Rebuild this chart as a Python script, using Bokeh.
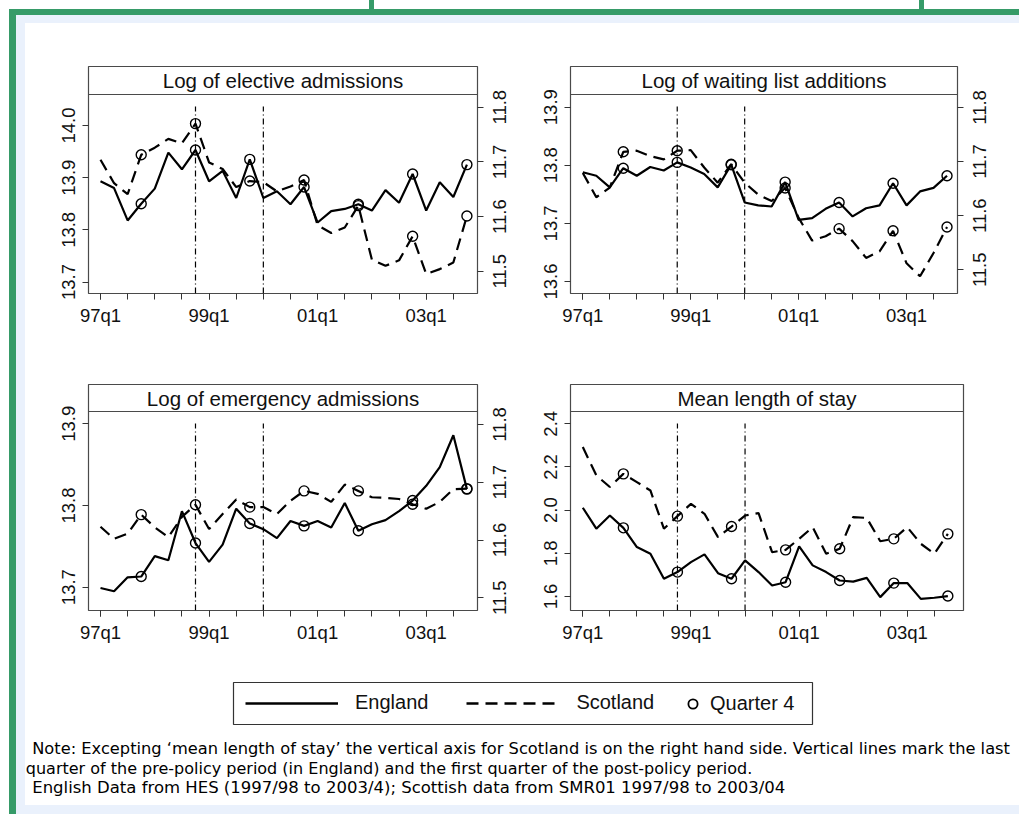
import math
from bokeh.plotting import figure
from bokeh.models import (Range1d, LinearAxis, FixedTicker, Span, Label, Legend, LegendItem,
                          CustomLabelingPolicy)
from bokeh.layouts import row, column
from bokeh.embed import file_html
from bokeh.resources import INLINE

# ---------------- data ----------------
quarters = [f"{y:02d}q{q}" for y in (97, 98, 99, 0, 1, 2, 3) for q in (1, 2, 3, 4)]
label_quarters = ["97q1", "99q1", "01q1", "03q1"]
policy_marks = ["98q4", "00q1"]

elective_eng = [13.893, 13.880, 13.818, 13.850, 13.879, 13.948, 13.916, 13.953, 13.893, 13.913,
                13.861, 13.935, 13.861, 13.874, 13.849, 13.882, 13.814, 13.836, 13.840, 13.849,
                13.837, 13.876, 13.852, 13.907, 13.837, 13.891, 13.863, 13.925]
elective_scot = [11.704, 11.661, 11.641, 11.713, 11.726, 11.742, 11.734, 11.770, 11.699, 11.687,
                 11.654, 11.665, 11.663, 11.646, 11.655, 11.667, 11.584, 11.570, 11.580, 11.620,
                 11.521, 11.510, 11.520, 11.564, 11.495, 11.504, 11.516, 11.601]

waiting_eng = [13.788, 13.782, 13.762, 13.795, 13.782, 13.797, 13.791, 13.805, 13.796, 13.785,
               13.762, 13.801, 13.736, 13.731, 13.729, 13.771, 13.706, 13.709, 13.725, 13.736,
               13.712, 13.726, 13.731, 13.769, 13.731, 13.755, 13.761, 13.782]
waiting_scot = [11.679, 11.634, 11.652, 11.718, 11.720, 11.710, 11.704, 11.720, 11.721, 11.689,
                11.661, 11.695, 11.661, 11.639, 11.627, 11.651, 11.596, 11.554, 11.562, 11.576,
                11.553, 11.522, 11.534, 11.572, 11.512, 11.488, 11.531, 11.579]

emerg_eng = [13.699, 13.695, 13.712, 13.713, 13.738, 13.733, 13.793, 13.754, 13.731, 13.752,
             13.796, 13.778, 13.771, 13.760, 13.781, 13.775, 13.781, 13.773, 13.803, 13.769,
             13.777, 13.782, 13.793, 13.806, 13.824, 13.847, 13.886, 13.820]
emerg_scot = [11.623, 11.602, 11.611, 11.644, 11.622, 11.605, 11.640, 11.661, 11.619, 11.645,
              11.670, 11.657, 11.657, 11.645, 11.668, 11.685, 11.680, 11.666, 11.696, 11.685,
              11.674, 11.673, 11.671, 11.662, 11.654, 11.666, 11.688, 11.689]

los_eng = [2.011, 1.914, 1.975, 1.918, 1.829, 1.798, 1.682, 1.713, 1.759, 1.795,
           1.708, 1.682, 1.767, 1.713, 1.651, 1.666, 1.832, 1.744, 1.713, 1.674,
           1.669, 1.686, 1.597, 1.662, 1.662, 1.589, 1.594, 1.602]
los_scot = [2.292, 2.161, 2.107, 2.168, 2.130, 2.091, 1.914, 1.972, 2.029, 1.983,
            1.875, 1.924, 1.975, 1.986, 1.805, 1.816, 1.867, 1.921, 1.798, 1.821,
            1.968, 1.964, 1.856, 1.867, 1.921, 1.844, 1.798, 1.890]

titles = ["Log of elective admissions", "Log of waiting list additions",
          "Log of emergency admissions", "Mean length of stay"]
legend_labels = ["England", "Scotland", "Quarter 4"]

note_lines = [
    "Note: Excepting \u2018mean length of stay\u2019 the vertical axis for Scotland is on the right hand side.  Vertical lines mark the last",
    "quarter of the pre-policy period (in England) and the first quarter of the post-policy period.",
    "English Data from HES (1997/98 to 2003/4); Scottish data from SMR01 1997/98 to 2003/04",
]

# ---------------- style ----------------
FONT = "Liberation Sans"
FRAME = "#4a4a4a"
TICK = "#333333"
INK = "#111111"
GREEN = "#369b68"
PALE = "#eaf1fc"
NAN = float("nan")

idx = list(range(len(quarters)))
q4_idx = [i for i, q in enumerate(quarters) if q.endswith("q4")]
pol_idx = [quarters.index(q) for q in policy_marks]
lab_idx = [quarters.index(q) for q in label_quarters]

HIDE_LABELS = "const all = [...indices]; for (const i of all) { indices.unset(i) } return indices"


def style_axis(ax):
    ax.axis_line_color = None
    ax.major_tick_line_color = TICK
    ax.minor_tick_line_color = TICK
    ax.major_tick_out = 6
    ax.major_tick_in = 0
    ax.minor_tick_out = 6
    ax.minor_tick_in = 0
    ax.major_label_text_font = FONT
    ax.major_label_text_font_size = "18.5px"
    ax.major_label_text_color = INK


def make_panel(title, eng, scot, yl, yr, lticks, rticks, xr, borders, frame, hdr_px):
    left, right, top, bottom = borders
    fw, fh = frame
    p = figure(width=left + fw + right, height=top + fh + bottom,
               x_range=Range1d(*xr), y_range=Range1d(*yl),
               output_backend="svg", toolbar_location=None,
               min_border_left=left, min_border_right=right,
               min_border_top=top, min_border_bottom=bottom,
               outline_line_color=FRAME, outline_line_width=1.2,
               background_fill_color="white", border_fill_color="white")
    p.grid.visible = False

    xa = p.xaxis[0]
    xa.ticker = FixedTicker(ticks=lab_idx, minor_ticks=list(range(0, len(quarters), 2)))
    xa.major_label_overrides = {i: quarters[i] for i in lab_idx}
    style_axis(xa)
    xa.major_label_standoff = 5

    ya = p.yaxis[0]
    ya.ticker = FixedTicker(ticks=lticks, minor_ticks=[])
    ya.major_label_overrides = {t: f"{t:.1f}" for t in lticks}
    ya.major_label_orientation = "vertical"
    style_axis(ya)
    ya.major_label_standoff = 7

    lab_fig = None
    scot_range = "default"
    if yr is not None:
        p.extra_y_ranges = {"scot": Range1d(*yr)}
        ra = LinearAxis(y_range_name="scot")
        ra.ticker = FixedTicker(ticks=rticks, minor_ticks=[])
        style_axis(ra)
        ra.major_label_text_font_size = "0px"
        ra.major_label_standoff = 0
        ra.major_label_policy = CustomLabelingPolicy(code=HIDE_LABELS)
        p.add_layout(ra, "right")
        scot_range = "scot"

        # labels of the Scotland axis (read bottom-to-top like the left ones)
        lab_fig = figure(width=29, height=top + fh + bottom,
                         x_range=Range1d(0, 1), y_range=Range1d(*yr),
                         output_backend="svg", toolbar_location=None,
                         min_border_left=28, min_border_right=0,
                         min_border_top=top, min_border_bottom=bottom,
                         x_axis_location=None, outline_line_color=None,
                         background_fill_color="white", border_fill_color="white")
        lab_fig.grid.visible = False
        la = lab_fig.yaxis[0]
        la.ticker = FixedTicker(ticks=rticks, minor_ticks=[])
        la.major_label_overrides = {t: f"{t:.1f}" for t in rticks}
        la.major_label_orientation = "vertical"
        style_axis(la)
        la.major_tick_out = 0
        la.major_tick_line_color = None
        la.major_label_standoff = 6

    # header strip (title box) inside top of the frame
    per_px = (yl[1] - yl[0]) / fh
    hdr_y = yl[1] - hdr_px * per_px
    p.add_layout(Span(location=hdr_y, dimension="width", line_color=FRAME, line_width=1.2))
    p.add_layout(Label(x=(xr[0] + xr[1]) / 2, y=yl[1] - hdr_px / 2 * per_px, text=title,
                       text_align="center", text_baseline="middle",
                       text_font=FONT, text_font_size="20.5px", text_color=INK))

    # policy marker lines
    top_y = hdr_y - 12 * per_px
    p.segment(x0=pol_idx, x1=pol_idx, y0=[yl[0]] * len(pol_idx), y1=[top_y] * len(pol_idx),
              line_color="black", line_width=1.2, line_dash="6 3 1 3")

    # England
    p.line(idx, eng, line_color="black", line_width=2.2)
    p.scatter(q4_idx, [eng[i] for i in q4_idx], marker="circle", size=10,
              fill_color=None, line_color="black", line_width=1.4)
    # Scotland
    p.line(idx, scot, line_color="black", line_width=2.2, line_dash="12 7", y_range_name=scot_range)
    p.scatter(q4_idx, [scot[i] for i in q4_idx], marker="circle", size=10,
              fill_color=None, line_color="black", line_width=1.4, y_range_name=scot_range)
    return p, lab_fig


p1, l1 = make_panel(titles[0], elective_eng, elective_scot,
                    (13.678, 14.113), (11.4594, 11.8744),
                    [13.7, 13.8, 13.9, 14.0], [11.5, 11.6, 11.7, 11.8],
                    (-0.884, 27.78), (63, 7, 43, 70), (389, 227), 28)
p2, l2 = make_panel(titles[1], waiting_eng, waiting_scot,
                    (13.5793, 13.970), (11.4562, 11.8756),
                    [13.6, 13.7, 13.8, 13.9], [11.5, 11.6, 11.7, 11.8],
                    (-0.912, 27.777), (57, 7, 43, 70), (387, 227), 28)
p3, l3 = make_panel(titles[2], emerg_eng, emerg_scot,
                    (13.6714, 13.9481), (11.478, 11.8692),
                    [13.7, 13.8, 13.9], [11.5, 11.6, 11.7, 11.8],
                    (-0.884, 27.78), (63, 7, 21, 55), (389, 226), 27)
p4, _ = make_panel(titles[3], los_eng, los_scot,
                   (1.535, 2.582), None,
                   [1.6, 1.8, 2.0, 2.2, 2.4], None,
                   (-0.91, 28.157), (57, 30, 21, 55), (393, 226), 27)

# ---------------- legend ----------------
leg = figure(width=994, height=70, min_border_left=208, min_border_right=207,
             min_border_top=17, min_border_bottom=11,
             x_range=Range1d(0, 1), y_range=Range1d(0, 1),
             x_axis_location=None, y_axis_location=None,
             toolbar_location=None, output_backend="svg",
             outline_line_color="#333333", outline_line_width=1.2,
             background_fill_color="white", border_fill_color="white")
leg.grid.visible = False
r_e = leg.line(x=[NAN], y=[NAN], line_color="black", line_width=2.5)
r_s = leg.line(x=[NAN], y=[NAN], line_color="black", line_width=2.5, line_dash="12 7")
r_q = leg.scatter(x=[NAN], y=[NAN], marker="circle", size=10, fill_color=None,
                  line_color="black", line_width=1.8)
legA = Legend(items=[LegendItem(label=legend_labels[0], renderers=[r_e]),
                     LegendItem(label=legend_labels[1], renderers=[r_s])],
              location=(12, 10), orientation="horizontal",
              glyph_width=93, glyph_height=20, label_standoff=17, spacing=38,
              padding=0, margin=0, border_line_color=None, background_fill_alpha=0,
              label_text_font=FONT, label_text_font_size="20px", label_text_color=INK)
legB = Legend(items=[LegendItem(label=legend_labels[2], renderers=[r_q])],
              location=(448, 9), orientation="horizontal",
              glyph_width=23, glyph_height=23, label_standoff=6,
              padding=0, margin=0, border_line_color=None, background_fill_alpha=0,
              label_text_font=FONT, label_text_font_size="20px", label_text_color=INK)
leg.add_layout(legA)
leg.add_layout(legB)

# ---------------- note ----------------
note = figure(width=994, height=70, min_border=0, min_border_left=0, min_border_right=0,
              min_border_top=0, min_border_bottom=0,
              x_range=Range1d(0, 994), y_range=Range1d(70, 0),
              x_axis_location=None, y_axis_location=None,
              toolbar_location=None, output_backend="svg",
              outline_line_color=None,
              background_fill_color="white", border_fill_color="white")
note.grid.visible = False
note_specs = [(6.7, 13.0, "16.25px"), (0.3, 32.5, "16px"), (6.7, 52.0, "16.5px")]
for (xx, yy, fs), txt in zip(note_specs, note_lines):
    note.add_layout(Label(x=xx, y=yy, text=txt, text_align="left", text_baseline="alphabetic",
                          text_font="DejaVu Sans", text_font_size=fs, text_color="black"))

inner = column(row(p1, l1, p2, l2), row(p3, l3, p4), row(leg), row(note),
               styles={"background-color": "white"})
framed = column(inner, styles={"border-top": f"6px solid {GREEN}",
                               "border-left": f"7px solid {GREEN}",
                               "padding": "8px 0px 9px 9px",
                               "background-color": PALE})
page = column(framed, styles={
    "padding": "9px 0px 0px 9px",
    "background": (f"linear-gradient({GREEN},{GREEN}) 369px 0px / 5px 9px no-repeat, "
                   f"linear-gradient({GREEN},{GREEN}) 919px 0px / 5px 9px no-repeat, white"),
})

open("out.html", "w").write(file_html(page, INLINE))
